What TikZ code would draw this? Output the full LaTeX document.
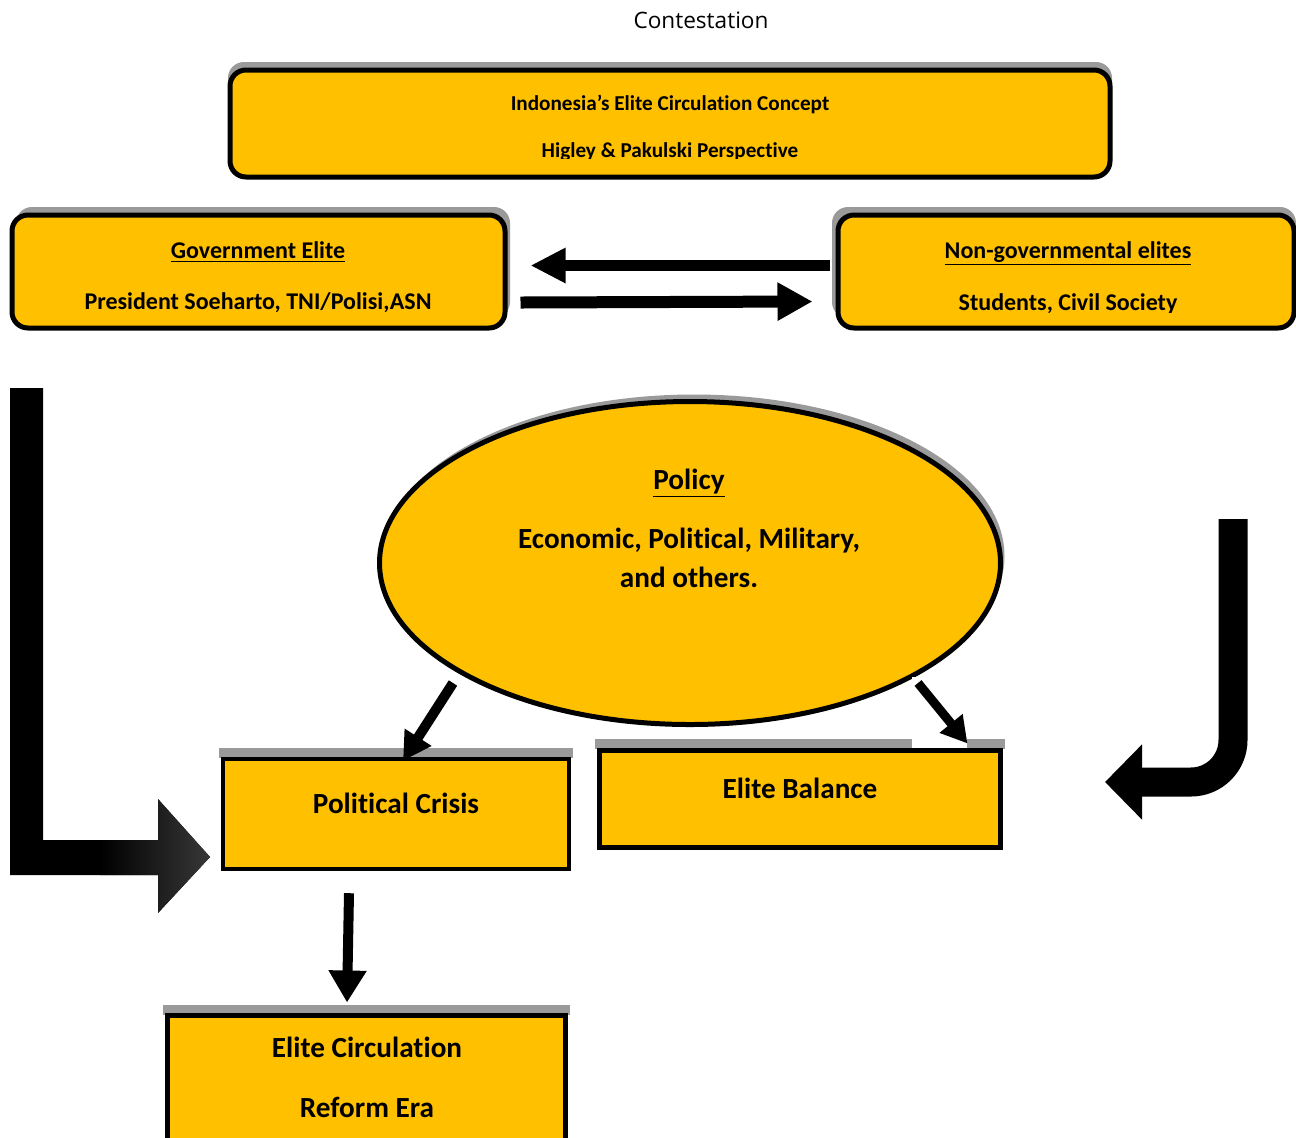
\documentclass[tikz,border=0pt]{standalone}
\usepackage{fontspec}
\setmainfont{Carlito}[RawFeature={-liga}]
\newfontfamily\osans{Open Sans}
\usetikzlibrary{arrows.meta,shapes.geometric,calc}
\definecolor{gold}{HTML}{FFC000}
\definecolor{shadowgray}{HTML}{9A9A9A}
\begin{document}
\begin{tikzpicture}[x=0.5pt,y=-0.5pt,
  rbox/.style={draw=black, fill=gold, line width=2.5pt, rounded corners=8pt, inner sep=0pt},
  sbox/.style={draw=black, fill=gold, line width=2.2pt, inner sep=0pt},
  lbl/.style={inner sep=0pt, anchor=base, font=\bfseries},
  smalltxt/.style={lbl, font=\bfseries\fontsize{10.6pt}{12pt}\selectfont},
  midtxt/.style={lbl, font=\bfseries\fontsize{12pt}{14pt}\selectfont},
  bigtxt/.style={lbl, font=\bfseries\fontsize{14.6pt}{16pt}\selectfont},
  conn/.style={draw=black}
]
\clip (0,0) rectangle (1296,1137);
\fill[white] (0,0) rectangle (1296,1137);

% title
\node[inner sep=0pt, anchor=base, font=\osans\fontsize{11.3pt}{13pt}\selectfont] (title) at (701,28) {Contestation};

% top box
\fill[shadowgray, rounded corners=8pt] (228,62) rectangle (1112,168);
\node[rbox, minimum width=440pt, minimum height=53.5pt] (top) at (670,123.5) {};
\begin{scope}
\clip (230,80) rectangle (1110,158);
\node[smalltxt] (topa) at (670,110) {Indonesia{\char"0027}s Elite Circulation Concept};
\node[smalltxt] (topb) at (670,157) {Higley \& Pakulski Perspective};
\end{scope}

% government elite
\fill[shadowgray, rounded corners=8pt] (16,207) rectangle (510,318);
\node[rbox, minimum width=246.5pt, minimum height=56.5pt] (gov) at (258.5,271.5) {};
\node[midtxt] (gova) at (258,258) {\underline{Government Elite}};
\begin{scope}
\clip (20,280) rectangle (500,311);
\node[midtxt] (govb) at (258,309) {President Soeharto, TNI/Polisi,ASN};
\end{scope}

% non-governmental elites
\fill[shadowgray, rounded corners=8pt] (832,207) rectangle (1296,318);
\node[rbox, minimum width=228pt, minimum height=56.5pt] (ngo) at (1066,271.5) {};
\node[midtxt] (ngoa) at (1068,258) {\underline{Non-governmental elites}};
\begin{scope}
\clip (845,280) rectangle (1290,312);
\node[midtxt] (ngob) at (1068,310) {Students, Civil Society};
\end{scope}

% arrows between elites
\draw[conn, line width=5.5pt, -{Triangle[length=17.5pt,width=16.5pt]}]
  ($(ngo.west)+(-6,-6)$) -- ($(gov.east)+(23,-6)$);
\draw[conn, line width=6pt, -{Triangle[length=17.5pt,width=18pt]}]
  ($(gov.east)+(13,31)$) -- ($(ngo.west)+(-23,30)$);

% big L arrow
\fill[black] (10,388) -- (43,388) -- (43,840) -- (158,840) -- (158,799) -- (210,857)
  -- (158,913) -- (158,875) -- (10,875) -- cycle;
\begin{scope}
\clip (10,388) -- (43,388) -- (43,840) -- (158,840) -- (158,799) -- (210,857)
  -- (158,913) -- (158,875) -- (10,875) -- cycle;
\shade[left color=black, right color=black!78] (100,790) rectangle (212,915);
\end{scope}

% J arrow
\draw[line width=14.5pt, rounded corners=21pt, -{Triangle[length=18.5pt,width=36.5pt]}]
  (1233,519) -- (1233,782) -- (1105,782);

% policy ellipse
\node[ellipse, fill=shadowgray, minimum width=310.5pt, minimum height=161.5pt, inner sep=0pt] (polsh) at (694,556) {};
\node[ellipse, draw=black, line width=2.5pt, fill=gold, minimum width=310.5pt, minimum height=161.5pt, inner sep=0pt] (pol) at (690,563) {};
\node[bigtxt] (pola) at (689,489) {\underline{Policy}};
\node[bigtxt] (polb) at (689,548) {Economic, Political, Military,};
\node[bigtxt] (polc) at (689,587) {and others.};

% political crisis
\fill[shadowgray] (219,748) rectangle (573,758);
\node[sbox, minimum width=173pt, minimum height=55pt] (pc) at (396,814) {};
\node[bigtxt] (pct) at (396,813) {Political Crisis};

% elite balance
\fill[shadowgray] (595,739) rectangle (1005,749);
\fill[white] (912,677) rectangle (967,748);
\node[sbox, line width=2.5pt, minimum width=200.5pt, minimum height=48.5pt] (eb) at (800,799) {};
\node[bigtxt] (ebt) at (800,798) {Elite Balance};

% elite circulation
\fill[shadowgray] (163,1005) rectangle (570,1015);
\node[sbox, line width=2.5pt, minimum width=199pt, minimum height=72.25pt] (ec) at (366.5,1087.75) {};
\node[bigtxt] (eca) at (367,1057) {Elite Circulation};
\node[bigtxt] (ecb) at (367,1117) {Reform Era};

% connectors
\draw[conn, line width=5pt, -{Triangle[length=14pt,width=15pt]}]
  ($(pol.center)+(-237,120)$) -- ($(pc.north)+(7,4)$);
\draw[conn, line width=4.5pt, -{Triangle[length=13pt,width=14pt]}]
  ($(pol.center)+(228,120)$) -- ($(eb.north east)+(-35.5,-4.5)$);
\draw[conn, line width=5pt, -{Triangle[length=16pt,width=18pt]}]
  ($(pc.south)+(-47,22)$) -- ($(ec.north)+(-19.5,-10.5)$);
\end{tikzpicture}
\end{document}
